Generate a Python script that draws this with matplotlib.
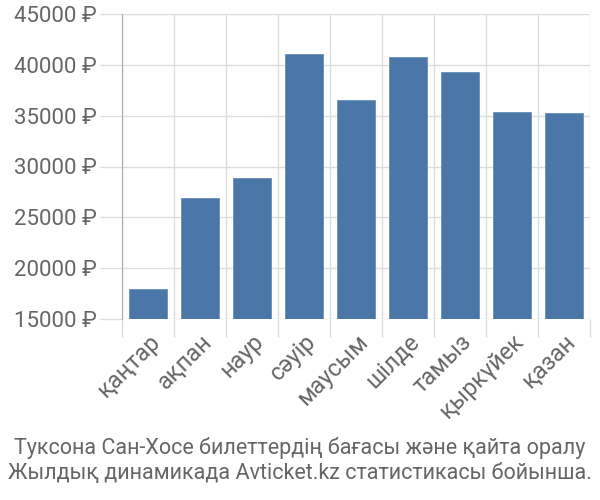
import numpy as np
import matplotlib.pyplot as plt

months = ['қаңтар', 'ақпан', 'наур', 'сәуір', 'маусым', 'шілде', 'тамыз', 'қыркүйек', 'қазан']
prices = [17950, 26900, 28880, 41080, 36560, 40780, 39280, 35360, 35260]
yticks = [15000, 20000, 25000, 30000, 35000, 40000, 45000]
caption = ['Туксона Сан-Хосе билеттердің бағасы және қайта оралу',
           'Жылдық динамикада Avticket.kz статистикасы бойынша.']

plt.rcParams['font.family'] = ['Roboto', 'DejaVu Sans']
grid_c = '#dddddd'
text_c = '#666666'

fig = plt.figure(figsize=(6, 5), dpi=100)
ax = fig.add_axes([122 / 600, 1 - 319 / 500, 468 / 600, 305 / 500])

x = np.arange(len(months))
ax.bar(x, prices, width=0.72, color='#4a76a8', edgecolor='#6a8fbc',
       linewidth=0.6, zorder=3)

ax.set_ylim(15000, 45000)
ax.set_xlim(-0.5, len(months) - 0.5)

ax.set_yticks(yticks)
ax.set_yticklabels([f'{v} ₽' for v in yticks], fontsize=16, color=text_c)
ax.set_xticks(x)
ax.set_xticklabels(months, rotation=45, ha='right', va='top', rotation_mode='anchor',
                   fontsize=17, color=text_c)
ax.set_xticks(np.arange(-0.5, len(months)), minor=True)

ax.tick_params(axis='y', length=16, color=grid_c, width=1, pad=2)
ax.tick_params(axis='x', which='major', length=0, pad=8)
ax.tick_params(axis='x', which='minor', length=13, color=grid_c, width=1)

ax.grid(axis='y', color=grid_c, linewidth=1, zorder=0)
ax.grid(axis='x', which='minor', color=grid_c, linewidth=1, zorder=0)

for side in ['top', 'right', 'bottom']:
    ax.spines[side].set_visible(False)
ax.spines['left'].set_color('#aaaaaa')
ax.spines['left'].set_zorder(4)

# first minor tick continues the left spine below the axis
ax.xaxis.get_minor_ticks()[0].tick1line.set_color('#aaaaaa')

fig.text(0.5, 1 - 454 / 500, caption[0], ha='center', va='baseline', fontsize=15.5,
         color=text_c)
fig.text(0.5, 1 - 479 / 500, caption[1], ha='center', va='baseline', fontsize=15.5,
         color=text_c)

fig.savefig('out.png', dpi=100)
